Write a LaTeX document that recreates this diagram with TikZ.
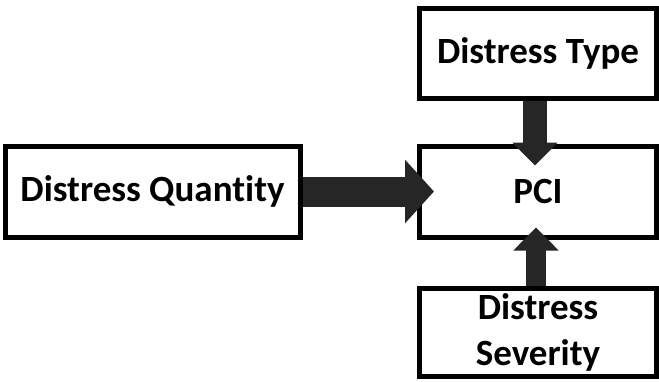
\documentclass[tikz,border=0pt]{standalone}
\usepackage{fontspec}
\setmainfont{Carlito}[Ligatures=NoCommon]
\usetikzlibrary{arrows.meta}
\definecolor{arrowgray}{HTML}{262626}

\begin{document}
\begin{tikzpicture}[x=1pt,y=-1pt,
  box/.style={draw,line width=5pt,inner sep=0pt,minimum width=237pt,
    font=\bfseries\fontsize{37}{46}\selectfont,align=center},
  widearrow/.style={draw=arrowgray,line width=30pt,
    -{Triangle[width=62pt,length=29pt]}},
  slimarrow/.style={draw=arrowgray,line width=#1,
    -{Triangle[width=44pt,length=23pt]}}]
  \useasboundingbox (0,0) rectangle (659,381);
  \node[box,minimum height=90pt] (type) at (538,53) {Distress Type};
  \node[box,minimum height=91pt] (pci) at (538,191.5) {PCI};
  \node[box,minimum height=88pt] (severity) at (538,332) {Distress\\Severity};
  \node[box,minimum width=295pt,minimum height=91pt] (quantity) at (152.5,191.5) {Distress Quantity};
  \draw[widearrow] (quantity.east) -- ([xshift=17pt]pci.west);
  \draw[slimarrow=24pt] ([xshift=-3pt]type.south) -- ([xshift=-3pt,yshift=-22pt]pci.north);
  \draw[slimarrow=20pt] ([xshift=-2pt]severity.north) -- ([xshift=-2pt,yshift=12pt]pci.south);
\end{tikzpicture}
\end{document}
